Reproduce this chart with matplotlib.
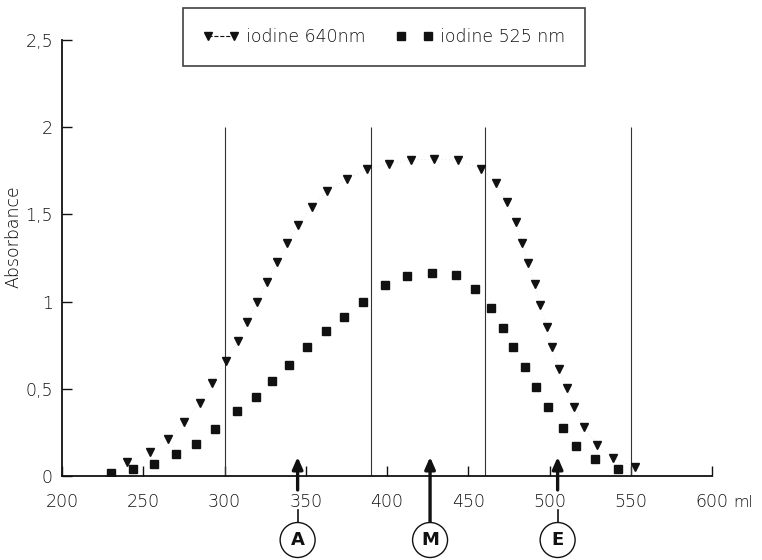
import matplotlib.pyplot as plt
from matplotlib.lines import Line2D

# elution volume (ml) / absorbance
vol_640 = [240, 254, 265, 275, 285, 292.5, 300.8, 308, 313.6, 320.2, 326, 332.5,
           338.7, 345, 353.6, 363, 375.2, 387.9, 401.2, 414.8, 429.1, 443.7,
           457.7, 467, 473.7, 479.2, 483.1, 487, 490.9, 494.2, 498.3, 501.5,
           506, 510.6, 515.3, 521.2, 529, 539.3, 552.6]
abs_640 = [0.08, 0.14, 0.21, 0.31, 0.42, 0.535, 0.66, 0.775, 0.885, 1.0, 1.114,
           1.225, 1.334, 1.44, 1.545, 1.636, 1.703, 1.759, 1.789, 1.812, 1.818,
           1.81, 1.762, 1.682, 1.573, 1.458, 1.338, 1.22, 1.099, 0.98, 0.856,
           0.741, 0.614, 0.503, 0.397, 0.283, 0.178, 0.101, 0.053]

vol_525 = [230.2, 243.9, 256.6, 270.2, 282.3, 294.2, 307.9, 319.3, 329.2, 339.9,
           351, 362.3, 373.5, 385.4, 398.8, 412.5, 427.5, 442.5, 454.2, 464,
           471.6, 477.3, 484.9, 491.5, 498.9, 508.1, 516.1, 528, 542]
abs_525 = [0.02, 0.042, 0.07, 0.126, 0.183, 0.268, 0.373, 0.455, 0.545, 0.638,
           0.74, 0.831, 0.914, 1.0, 1.093, 1.147, 1.166, 1.152, 1.071, 0.965,
           0.85, 0.741, 0.627, 0.512, 0.394, 0.277, 0.172, 0.096, 0.04]

fraction_limits = [300, 390, 460, 550]
pool_x = [345, 426.5, 505]
pool_labels = ["A", "M", "E"]

x_ticks = [200, 250, 300, 350, 400, 450, 500, 550, 600]
x_tick_labels = ["200", "250", "300", "350", "400", "450", "500", "550", "600"]
y_ticks = [0, 0.5, 1, 1.5, 2, 2.5]
y_tick_labels = ["0", "0,5", "1", "1,5", "2", "2,5"]

ink = "#111111"
plt.rcParams["font.weight"] = "light"
plt.rcParams["axes.labelweight"] = "light"
plt.rcParams["text.color"] = ink

fig = plt.figure(figsize=(7.62, 5.6), dpi=100)
ax = fig.add_axes([62 / 762, 84 / 560, 650 / 762, 436 / 560])

ax.vlines(fraction_limits, 0, 2.0, color="#333333", lw=0.8)

ax.plot(vol_640, abs_640, ls=(0, (1, 4)), lw=0.5, color="#d5d5d5")
ax.plot(vol_640, abs_640, ls="none", marker="v", ms=6, color=ink)
ax.plot(vol_525, abs_525, ls="none", marker="s", ms=5.5, color=ink)

ax.set_xlim(200, 600)
ax.set_ylim(0, 2.5)
ax.set_xticks(x_ticks)
ax.set_xticklabels(x_tick_labels)
ax.set_yticks(y_ticks)
ax.set_yticklabels(y_tick_labels)

for s in ["top", "right"]:
    ax.spines[s].set_visible(False)
for s in ["left", "bottom"]:
    ax.spines[s].set_linewidth(1.3)
    ax.spines[s].set_color(ink)

ax.tick_params(direction="in", length=7, width=1, color=ink, labelsize=12.5,
               labelcolor=ink)
ax.tick_params(axis="x", pad=12.5)
ax.tick_params(axis="y", pad=6.5)

ax.set_ylabel("Absorbance", fontsize=12.5)
ax.yaxis.set_label_coords(-0.0615, 0.548)

ax.annotate("ml", xy=(600, 0), xytext=(15.5, -13.8), textcoords="offset points",
            fontsize=11.5, ha="left", va="top", annotation_clip=False)

# pooled fractions: arrows + circled letters below the axis
tip_y = 0.109
for x, lab in zip(pool_x, pool_labels):
    base = -0.264 if lab == "M" else -0.08
    ax.annotate("", xy=(x, tip_y), xytext=(x, base), annotation_clip=False,
                arrowprops=dict(arrowstyle="-|>,head_length=0.5,head_width=0.22",
                                lw=2.4, color=ink, shrinkA=0, shrinkB=0,
                                mutation_scale=14))
    if lab != "M":
        ax.plot([x, x], [-0.195, -0.264], color=ink, lw=1.2, clip_on=False)
    ax.text(x, -0.367, lab, ha="center", va="center", fontsize=13,
            fontweight="bold", clip_on=False,
            bbox=dict(boxstyle="circle,pad=0.47", fc="white", ec=ink, lw=1))

handles = [
    Line2D([], [], marker="v", ls="--", lw=0.8, ms=6, color=ink),
    Line2D([], [], marker="s", ls="none", ms=5.5, color=ink),
]
leg = fig.legend(handles, ["iodine 640nm", "iodine 525 nm"], loc="upper left",
                 bbox_to_anchor=(183 / 762, 1 - 8 / 560), ncol=2, numpoints=2,
                 frameon=True, fancybox=False, edgecolor=ink, borderpad=1.15,
                 handlelength=2.1, handletextpad=0.4, columnspacing=1.75,
                 fontsize=12.5, borderaxespad=0)
leg.get_frame().set_linewidth(1.2)

fig.savefig("out.png", dpi=100)
